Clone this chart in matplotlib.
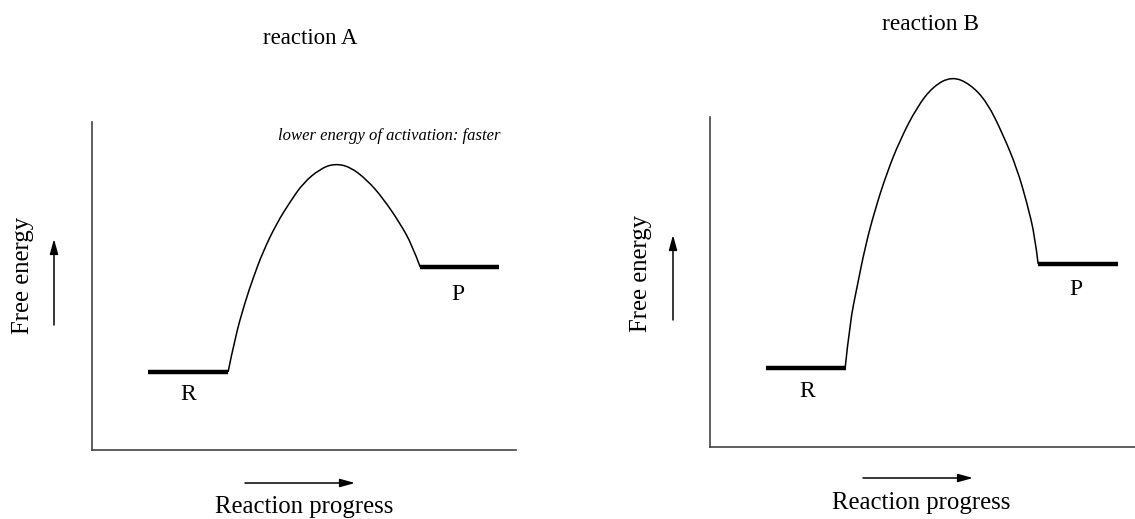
import matplotlib.pyplot as plt
from matplotlib.path import Path
from matplotlib.patches import PathPatch, FancyArrowPatch

plt.rcParams['font.family'] = ['Liberation Serif', 'DejaVu Serif']

W, H = 1135, 519

# reaction coordinate (0-100 of axis width) and free energy (0-100 of axis height)
a_curve_x = [32.1, 33.7, 36.1, 38.0, 40.3, 43.6, 46.7, 49.8, 53.8, 57.1, 60.8, 64.9, 68.6, 72.6, 75.5, 77.4]
a_curve_y = [23.8, 34.1, 45.1, 52.4, 60.4, 69.2, 75.6, 81.4, 85.7, 87.3, 86.4, 82.3, 76.8, 69.2, 62.5, 55.8]
a_r_x = [13.2, 32.1]
a_r_y = 23.8
a_p_x = [77.4, 96.0]
a_p_y = 55.8

b_curve_x = [31.8, 32.9, 34.6, 36.5, 38.8, 41.6, 44.7, 48.7, 52.5, 56.9, 61.2, 65.2, 68.9, 72.2, 74.6, 76.5, 77.2]
b_curve_y = [23.9, 37.6, 48.5, 60.6, 71.8, 83.0, 93.0, 103.0, 109.3, 112.3, 110.0, 104.5, 94.8, 84.5, 73.9, 63.6, 55.5]
b_r_x = [13.2, 32.0]
b_r_y = 23.9
b_p_x = [77.2, 96.0]
b_p_y = 55.5

titles = ["reaction A", "reaction B"]
note = "lower energy of activation: faster"


def fx(px):
    return px / W


def fy(py):
    return 1 - py / H


def smooth_path(xs, ys):
    # quadratic B-spline: read points act as control points
    pts = list(zip(xs, ys))
    verts = [pts[0]]
    codes = [Path.MOVETO]
    for i in range(1, len(pts) - 1):
        if i < len(pts) - 2:
            end = ((pts[i][0] + pts[i + 1][0]) / 2, (pts[i][1] + pts[i + 1][1]) / 2)
        else:
            end = pts[-1]
        verts += [pts[i], end]
        codes += [Path.CURVE3, Path.CURVE3]
    return Path(verts, codes)


fig = plt.figure(figsize=(W / 100, H / 100), dpi=100)


def panel(box, cx, cy, rx, ry, px_, py_, r_lab, p_lab):
    left, top, right, bottom = box
    ax = fig.add_axes([fx(left), fy(bottom), (right - left) / W, (bottom - top) / H])
    ax.set_xlim(0, 100)
    ax.set_ylim(0, 100)
    for s in ['top', 'right']:
        ax.spines[s].set_visible(False)
    for s in ['left', 'bottom']:
        ax.spines[s].set_color('#444444')
        ax.spines[s].set_linewidth(1.2)
    ax.set_xticks([])
    ax.set_yticks([])
    ax.patch.set_alpha(0)
    ax.add_patch(PathPatch(smooth_path(cx, cy), facecolor='none', edgecolor='black',
                           lw=1.1, clip_on=False))
    ax.plot(rx, [ry, ry], color='black', lw=3.2, solid_capstyle='butt', clip_on=False)
    ax.plot(px_, [py_, py_], color='black', lw=3.2, solid_capstyle='butt', clip_on=False)
    ax.text(*r_lab, "R", fontsize=17, ha='center', va='center')
    ax.text(*p_lab, "P", fontsize=17, ha='center', va='center')
    return ax


axA = panel((92, 122, 516, 450), a_curve_x, a_curve_y, a_r_x, a_r_y, a_p_x, a_p_y,
            (22.6, 16.8), (86.3, 47.3))
axB = panel((710, 117, 1135, 447), b_curve_x, b_curve_y, b_r_x, b_r_y, b_p_x, b_p_y,
            (22.8, 16.7), (86.1, 47.6))

# titles and labels
fig.text(fx(310), fy(39), titles[0], fontsize=16.5, ha='center', va='center')
fig.text(fx(930), fy(25), titles[1], fontsize=16.8, ha='center', va='center')
fig.text(fx(278), fy(136), note, fontsize=12, style='italic', ha='left', va='center')

for x, y in [(23, 275), (641, 273)]:
    fig.text(fx(x), fy(y), "Free energy", fontsize=17.8, rotation=90, ha='center', va='center')
for x, y in [(304, 507), (921, 503)]:
    fig.text(fx(x), fy(y), "Reaction progress", fontsize=17.8, ha='center', va='center')

for x0, y0, x1, y1 in [(54, 325, 54, 239), (673, 320, 673, 235),
                       (245, 483, 355, 483), (863, 478, 973, 478)]:
    fig.add_artist(FancyArrowPatch(
        (fx(x0), fy(y0)), (fx(x1), fy(y1)), transform=fig.transFigure,
        arrowstyle='-|>,head_length=0.9,head_width=0.25', mutation_scale=10,
        color='black', lw=1.1, shrinkA=0, shrinkB=0))

fig.savefig("out.png", dpi=100)
